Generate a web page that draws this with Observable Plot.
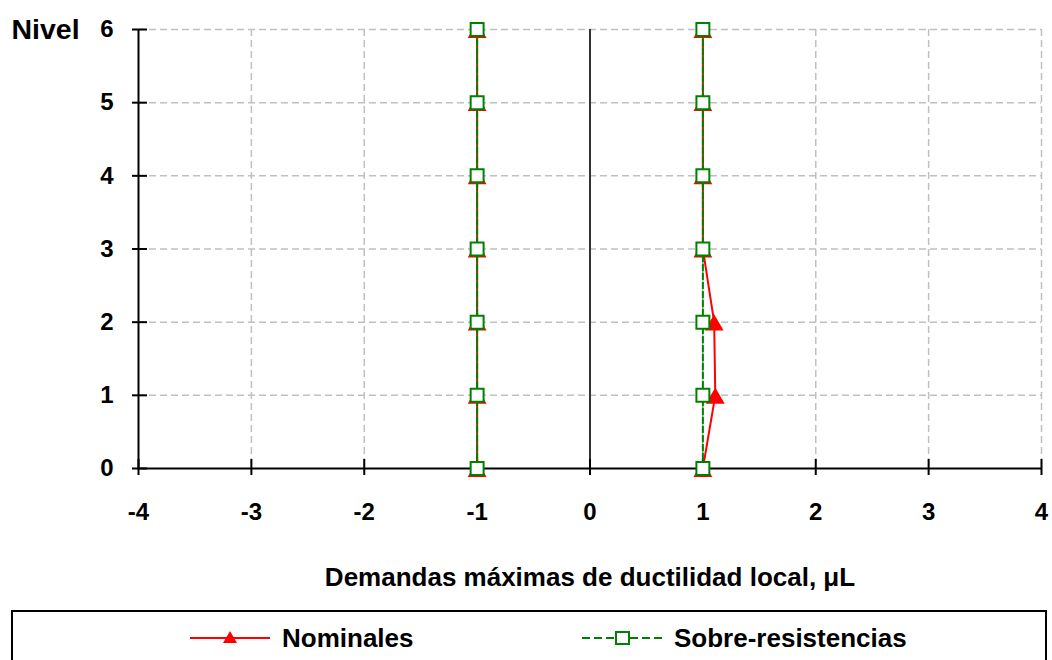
<!DOCTYPE html>
<html><head><meta charset="utf-8">
<script src="https://cdn.jsdelivr.net/npm/d3@7"></script>
<script src="https://cdn.jsdelivr.net/npm/@observablehq/plot@0.6"></script>
<style>
body{margin:0;background:#fff;font-family:"Liberation Sans",Arial,sans-serif;font-weight:bold;}
#legend{position:absolute;left:11px;top:610px;width:1036px;height:80px;border:2px solid #000;box-sizing:border-box;}
.item{position:absolute;top:626px;height:24px;display:flex;align-items:center;font-size:26px;color:#000;}
.item svg{margin-right:12px;overflow:visible;}
</style></head><body><div id="chart"></div><div id="legend"></div>
<div class="item" style="left:190px"><svg width="80" height="20"><line x1="0" x2="80" y1="10" y2="10" stroke="red" stroke-width="2"/><path d="M40,3 L47,15 L33,15 Z" fill="red"/></svg><span>Nominales</span></div>
<div class="item" style="left:582px"><svg width="80" height="20"><line x1="0" x2="80" y1="10" y2="10" stroke="#008000" stroke-width="2" stroke-dasharray="8,4"/><rect x="34" y="4" width="13" height="12" fill="#fff" stroke="#008000" stroke-width="2"/></svg><span>Sobre-resistencias</span></div>
<script>
const niveles = [0, 1, 2, 3, 4, 5, 6];
const nominalesNeg = [-1, -1, -1, -1, -1, -1, -1];
const nominalesPos = [1, 1.11, 1.1, 1, 1, 1, 1];
const sobreNeg = [-1, -1, -1, -1, -1, -1, -1];
const sobrePos = [1, 1, 1, 1, 1, 1, 1];
const xTicks = [-4, -3, -2, -1, 0, 1, 2, 3, 4];
const yTicks = [0, 1, 2, 3, 4, 5, 6];
const xTitle = "Demandas máximas de ductilidad local, μL";
const yTitle = "Nivel";

const rows = (vals, rama) => vals.map((mu, i) => ({mu, nivel: niveles[i], rama}));
const nominales = [...rows(nominalesNeg, "neg"), ...rows(nominalesPos, "pos")];
const sobre = [...rows(sobreNeg, "neg"), ...rows(sobrePos, "pos")];

const font = {fontSize: 24, fontWeight: "bold", fill: "#000", tickFormat: d => String(d)};
const grid = {stroke: "#c0c0c0", strokeOpacity: 1, strokeWidth: 1.5, strokeDasharray: "7,4"};

const chart = Plot.plot({
  width: 1052,
  height: 605,
  marginLeft: 138,
  marginRight: 11,
  marginTop: 29,
  marginBottom: 137,
  style: {fontFamily: "'Liberation Sans', Arial, sans-serif", background: "#fff"},
  x: {domain: [-4, 4], ticks: xTicks},
  y: {domain: [0, 6], ticks: yTicks},
  marks: [
    Plot.gridX(xTicks.filter(d => d > -4), grid),
    Plot.gridY(yTicks.filter(d => d > 0), grid),
    Plot.ruleX([0], {stroke: "#333", strokeWidth: 2}),
    Plot.ruleX([-4], {stroke: "#000", strokeWidth: 2}),
    Plot.ruleY([0], {stroke: "#000", strokeWidth: 2}),
    Plot.axisY(yTicks, {anchor: "left", tickSize: 15, dx: 9, text: null, strokeWidth: 2, stroke: "#000", label: null}),
    Plot.axisY(yTicks, {anchor: "left", tickSize: 0, tickPadding: 25, ...font, label: null}),
    Plot.axisX(xTicks, {anchor: "bottom", tickSize: 16, dy: -9, text: null, strokeWidth: 2, stroke: "#000", label: null}),
    Plot.axisX(xTicks, {anchor: "bottom", tickSize: 0, tickPadding: 34, ...font, label: null}),
    Plot.text([yTitle], {frameAnchor: "top-left", dx: -127, textAnchor: "start", lineAnchor: "middle", fontSize: 28.5, fontWeight: "bold", fill: "#000"}),
    Plot.text([xTitle], {frameAnchor: "bottom", dy: 109, lineAnchor: "middle", fontSize: 26, fontWeight: "bold", fill: "#000", letterSpacing: "-0.5px"}),
    Plot.line(nominales, {x: "mu", y: "nivel", z: "rama", stroke: "red", strokeWidth: 2}),
    Plot.dot(nominales, {x: "mu", y: "nivel", symbol: "triangle", r: 7, dy: 3, fill: "red", stroke: "none"}),
    Plot.line(sobre, {x: "mu", y: "nivel", z: "rama", stroke: "#008000", strokeWidth: 2, strokeDasharray: "6,3"}),
    Plot.dot(sobre, {x: "mu", y: "nivel", symbol: "square", r: 7.3, fill: "#fff", stroke: "#008000", strokeWidth: 2})
  ]
});
document.getElementById("chart").appendChild(chart);
</script>
</body></html>
